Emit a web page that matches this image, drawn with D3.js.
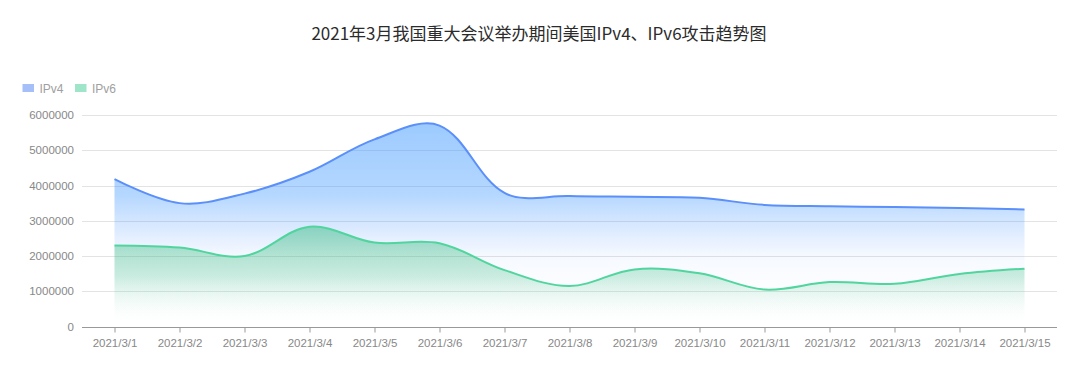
<!DOCTYPE html>
<html>
<head>
<meta charset="utf-8">
<script src="https://cdn.jsdelivr.net/npm/d3@7"></script>
<style>
  html, body { margin: 0; padding: 0; background: #fff; }
  svg { display: block; }
</style>
</head>
<body>
<svg id="chart" width="1080" height="370"></svg>
<script>
// ---------- data ----------
const titleText = "2021年3月我国重大会议举办期间美国IPv4、IPv6攻击趋势图";
const categories = ["2021/3/1","2021/3/2","2021/3/3","2021/3/4","2021/3/5","2021/3/6","2021/3/7","2021/3/8","2021/3/9","2021/3/10","2021/3/11","2021/3/12","2021/3/13","2021/3/14","2021/3/15"];
const seriesNames = ["IPv4", "IPv6"];
const ipv4Values = [4180000, 3500000, 3770000, 4390000, 5310000, 5700000, 3790000, 3700000, 3680000, 3650000, 3450000, 3410000, 3390000, 3360000, 3320000];
const ipv6Values = [2300000, 2240000, 2000000, 2830000, 2380000, 2360000, 1600000, 1150000, 1620000, 1510000, 1050000, 1260000, 1210000, 1490000, 1640000];
const yTicks = [0, 1000000, 2000000, 3000000, 4000000, 5000000, 6000000];

// ---------- layout ----------
const svg = d3.select("#chart");
const plotLeft = 82, plotRight = 1057, plotTop = 115, plotBottom = 326.5;

const x = d3.scalePoint().domain(categories).range([plotLeft, plotRight]).padding(0.5);
const y = d3.scaleLinear().domain([0, 6000000]).range([plotBottom, plotTop]);

// distance-weighted smooth spline (tension 0.35)
function curveSmooth(context) {
  return {
    areaStart() { this._line = 0; },
    areaEnd() { this._line = NaN; },
    lineStart() { this._pts = []; },
    point(px, py) { this._pts.push([+px, +py]); },
    lineEnd() {
      const pts = this._pts, n = pts.length, s = 0.35;
      if (n) {
        if (this._line) context.lineTo(pts[0][0], pts[0][1]); else context.moveTo(pts[0][0], pts[0][1]);
        let cp0 = pts[0].slice();
        for (let i = 1; i < n; i++) {
          const p = pts[i], prev = pts[i - 1], next = pts[i + 1];
          let cp1, v = [0, 0], ratio = 0.5;
          if (!next) { cp1 = p.slice(); }
          else {
            v = [next[0] - prev[0], next[1] - prev[1]];
            const d0 = Math.hypot(p[0] - prev[0], p[1] - prev[1]);
            const d1 = Math.hypot(p[0] - next[0], p[1] - next[1]);
            ratio = (d0 + d1) ? d1 / (d0 + d1) : 0.5;
            cp1 = [p[0] - v[0] * s * (1 - ratio), p[1] - v[1] * s * (1 - ratio)];
          }
          context.bezierCurveTo(cp0[0], cp0[1], cp1[0], cp1[1], p[0], p[1]);
          cp0 = [p[0] + v[0] * s * ratio, p[1] + v[1] * s * ratio];
        }
      }
      if (this._line || (this._line !== 0 && n === 1)) context.closePath();
      this._line = 1 - this._line;
    }
  };
}

// ---------- gradients ----------
const defs = svg.append("defs");
const g4 = defs.append("linearGradient").attr("id", "gradV4").attr("x1", 0).attr("y1", 0).attr("x2", 0).attr("y2", 1);
g4.append("stop").attr("offset", 0).attr("stop-color", "rgb(58,150,255)").attr("stop-opacity", 0.5);
g4.append("stop").attr("offset", 0.35).attr("stop-color", "rgb(58,150,255)").attr("stop-opacity", 0.38);
g4.append("stop").attr("offset", 0.65).attr("stop-color", "rgb(90,150,255)").attr("stop-opacity", 0.06);
g4.append("stop").attr("offset", 1).attr("stop-color", "rgb(255,255,255)").attr("stop-opacity", 0);
const g6 = defs.append("linearGradient").attr("id", "gradV6").attr("x1", 0).attr("y1", 0).attr("x2", 0).attr("y2", 1);
g6.append("stop").attr("offset", 0).attr("stop-color", "rgb(50,185,125)").attr("stop-opacity", 0.48);
g6.append("stop").attr("offset", 0.5).attr("stop-color", "rgb(50,185,125)").attr("stop-opacity", 0.24);
g6.append("stop").attr("offset", 1).attr("stop-color", "rgb(255,255,255)").attr("stop-opacity", 0);

// ---------- title ----------
svg.append("text")
  .attr("x", 539).attr("y", 40)
  .attr("text-anchor", "middle")
  .attr("font-family", "'Noto Sans CJK SC', 'Noto Sans', sans-serif")
  .attr("font-size", 17)
  .attr("fill", "#2b2b2b")
  .text(titleText);

// ---------- legend ----------
const legendColors = ["#a5c0f8", "#9fe5ca"];
const legendX = [22.5, 75];
seriesNames.forEach((name, i) => {
  svg.append("rect").attr("x", legendX[i]).attr("y", 84).attr("width", 11.5).attr("height", 8)
    .attr("fill", legendColors[i]);
  svg.append("text").attr("x", legendX[i] + 17).attr("y", 92.5)
    .attr("font-family", "'Liberation Sans', Arial, sans-serif")
    .attr("font-size", 12).attr("fill", "#a0a0a0").text(name);
});

// ---------- grid ----------
svg.append("g").selectAll("line").data(yTicks.filter(d => d > 0)).join("line")
  .attr("x1", plotLeft).attr("x2", plotRight)
  .attr("y1", d => Math.round(y(d)) + 0.5).attr("y2", d => Math.round(y(d)) + 0.5)
  .attr("stroke", "#e3e3e3").attr("stroke-width", 1);

// ---------- y axis labels ----------
svg.append("g").selectAll("text").data(yTicks).join("text")
  .attr("x", 74).attr("y", d => y(d) + 4)
  .attr("text-anchor", "end")
  .attr("font-family", "'Liberation Sans', Arial, sans-serif")
  .attr("font-size", 11.5).attr("fill", "#888")
  .text(d => d3.format("d")(d));

// ---------- areas ----------
const areaGen = d3.area().x((d, i) => x(categories[i])).y0(y(0)).y1(d => y(d)).curve(curveSmooth);
const lineGen = d3.line().x((d, i) => x(categories[i])).y(d => y(d)).curve(curveSmooth);

svg.append("path").datum(ipv4Values).attr("d", areaGen).attr("fill", "url(#gradV4)");
svg.append("path").datum(ipv6Values).attr("d", areaGen).attr("fill", "url(#gradV6)");
svg.append("path").datum(ipv4Values).attr("d", lineGen).attr("fill", "none")
  .attr("stroke", "#5b8ff9").attr("stroke-width", 2);
svg.append("path").datum(ipv6Values).attr("d", lineGen).attr("fill", "none")
  .attr("stroke", "#50d59e").attr("stroke-width", 2);

// ---------- x axis ----------
const xAxis = d3.axisBottom(x).tickSize(5).tickSizeOuter(0).tickPadding(6);
const gx = svg.append("g").attr("transform", `translate(0,${Math.round(plotBottom) + 0.5})`).call(xAxis);
gx.select(".domain").attr("d", `M${plotLeft},0H${plotRight}`).attr("stroke", "#999");
gx.selectAll(".tick line").attr("stroke", "#999");
gx.selectAll(".tick text")
  .attr("font-family", "'Liberation Sans', Arial, sans-serif")
  .attr("font-size", 11.5).attr("fill", "#888");
</script>
</body>
</html>
